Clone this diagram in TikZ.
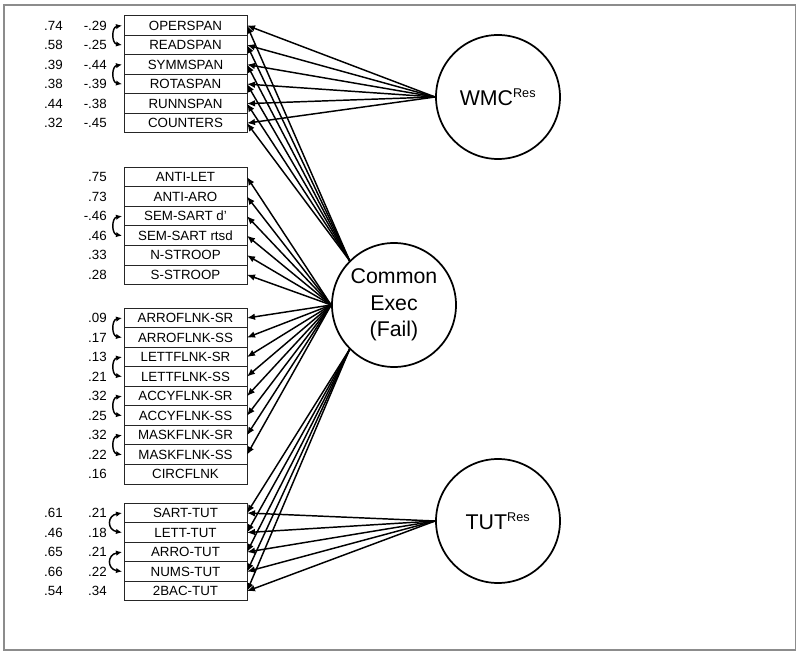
\documentclass[tikz,border=0pt]{standalone}
\usepackage{fontspec}
\setmainfont{Liberation Sans}
\usetikzlibrary{positioning,arrows.meta}
\newcommand{\resup}{\textsuperscript{\fontsize{9.5}{10}\selectfont Res}}
\begin{document}
\begin{tikzpicture}
        [   x = 0.75pt
        ,   y = 0.75pt
        ,   node distance = 0pt
        ,   task/.style =
            {   draw = black!85
            ,   line width = 0.7pt
            ,   minimum width = 92.25pt
            ,   minimum height = 14.65pt
            ,   inner sep = 0pt
            ,   outer sep = 0pt
            ,   font = \fontsize{10}{11}\selectfont
            }
        ,   factor/.style =
            {   draw
            ,   circle
            ,   line width = 1.3pt
            ,   minimum size = 93pt
            ,   inner sep = 0pt
            ,   align = center
            ,   font = \fontsize{16}{20}\selectfont
            }
        ,   est/.style =
            {   inner sep = 0pt
            ,   font = \fontsize{10}{11}\selectfont
            }
        ,   load/.style =
            {   -{Latex[length = 6pt, width = 5pt]}
            ,   line width = 1.1pt
            }
        ,   corr/.style =
            {   {Latex[length = 4.5pt, width = 4pt]}-{Latex[length = 4.5pt, width = 4pt]}
            ,   line width = 1.1pt
            ,   bend right = 80
            ,   looseness = #1
            }
        ,   corr/.default = 1.4
        ]
        \useasboundingbox (0,0) rectangle (800,654);
        \draw[black!45, line width = 1.1pt] (4,4) rectangle (795.5,649);

        \node[factor] (wmc) at (498,557) {WMC\resup};
        \node[factor] (ce) at (394,349) {Common\\Exec\\(Fail)};
        \node[factor] (tut) at (498,133) {TUT\resup};

        \node[task] (operspan) at (185.5,628.5) {OPERSPAN};
        \node[task, below = of operspan] (readspan) {READSPAN};
        \node[task, below = of readspan] (symmspan) {SYMMSPAN};
        \node[task, below = of symmspan] (rotaspan) {ROTASPAN};
        \node[task, below = of rotaspan] (runnspan) {RUNNSPAN};
        \node[task, below = of runnspan] (counters) {COUNTERS};

        \node[task] (antilet) at (185.5,476.9) {ANTI-LET};
        \node[task, below = of antilet] (antiaro) {ANTI-ARO};
        \node[task, below = of antiaro] (sartd) {SEM-SART d’};
        \node[task, below = of sartd] (sartrt) {SEM-SART rtsd};
        \node[task, below = of sartrt] (nstroop) {N-STROOP};
        \node[task, below = of nstroop] (sstroop) {S-STROOP};

        \node[task] (arrosr) at (185.5,336) {ARROFLNK-SR};
        \node[task, below = of arrosr] (arross) {ARROFLNK-SS};
        \node[task, below = of arross] (lettsr) {LETTFLNK-SR};
        \node[task, below = of lettsr] (lettss) {LETTFLNK-SS};
        \node[task, below = of lettss] (accysr) {ACCYFLNK-SR};
        \node[task, below = of accysr] (accyss) {ACCYFLNK-SS};
        \node[task, below = of accyss] (masksr) {MASKFLNK-SR};
        \node[task, below = of masksr] (maskss) {MASKFLNK-SS};
        \node[task, below = of maskss] (circflnk) {CIRCFLNK};

        \node[task] (sarttut) at (185.5,141) {SART-TUT};
        \node[task, below = of sarttut] (letttut) {LETT-TUT};
        \node[task, below = of letttut] (arrotut) {ARRO-TUT};
        \node[task, below = of arrotut] (numstut) {NUMS-TUT};
        \node[task, below = of numstut] (bactut) {2BAC-TUT};

        \foreach \t/\v in
            {operspan/-.29, readspan/-.25, symmspan/-.44, rotaspan/-.39,
             runnspan/-.38, counters/-.45, antilet/.75, antiaro/.73,
             sartd/-.46, sartrt/.46, nstroop/.33, sstroop/.28,
             arrosr/.09, arross/.17, lettsr/.13, lettss/.21, accysr/.32,
             accyss/.25, masksr/.32, maskss/.22, circflnk/.16,
             sarttut/.21, letttut/.18, arrotut/.21, numstut/.22, bactut/.34}
            \node[est, left = 12.75pt of \t] (\t-a) {\v};
        \foreach \t/\v in
            {operspan/.74, readspan/.58, symmspan/.39, rotaspan/.38,
             runnspan/.44, counters/.32, sarttut/.61, letttut/.46,
             arrotut/.65, numstut/.66, bactut/.54}
            \node[est, left = 45.75pt of \t] (\t-b) {\v};

        \foreach \t in {operspan, readspan, symmspan, rotaspan, runnspan, counters}
        {   \draw[load] (wmc.west) -- (\t.east);
            \draw[load] (ce.135) -- (\t.east);
        }
        \foreach \t in {antilet, antiaro, sartd, sartrt, nstroop, sstroop,
                        arrosr, arross, lettsr, lettss, accysr, accyss, masksr, maskss}
            \draw[load] (ce.west) -- (\t.east);
        \foreach \t in {sarttut, letttut, arrotut, numstut, bactut}
        {   \draw[load] (tut.west) -- (\t.east);
            \draw[load] (ce.225) -- (\t.east);
        }

        \foreach \a/\b in
            {operspan/readspan, symmspan/rotaspan, sartd/sartrt,
             arrosr/arross, lettsr/lettss, accysr/accyss, masksr/maskss}
            \draw[corr] ([xshift = -1.5pt]\a.west) to ([xshift = -1.5pt]\b.west);
        \draw[corr = 2] ([xshift = -1.5pt]sarttut.west) to ([xshift = -1.5pt]letttut.west);
        \draw[corr = 2] ([xshift = -1.5pt]arrotut.west) to ([xshift = -1.5pt]numstut.west);
\end{tikzpicture}
\end{document}
